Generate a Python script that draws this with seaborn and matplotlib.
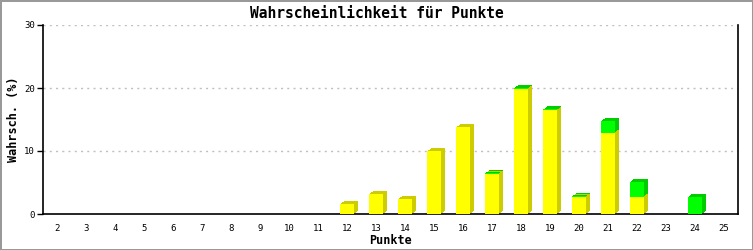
import matplotlib
matplotlib.use("Agg")
import matplotlib.pyplot as plt
import matplotlib.patheffects as pe
import seaborn as sns
import pandas as pd

categories = [str(i) for i in range(2, 26)]
yellow = [0, 0, 0, 0, 0, 0, 0, 0, 0, 0, 1.6, 3.2, 2.4, 10.0, 13.8, 6.4, 19.9, 16.5, 2.75, 12.9, 2.75, 0, 0, 0]
green = [0, 0, 0, 0, 0, 0, 0, 0, 0, 0, 0, 0, 0, 0, 0, 0.1, 0.1, 0.1, 0.1, 1.9, 2.4, 0, 2.75, 0]
yticks = [0, 10, 20, 30]

title = "Wahrscheinlichkeit für Punkte"
xlabel = "Punkte"
ylabel = "Wahrsch. (%)"

df = pd.DataFrame({"Punkte": categories, "gelb": yellow, "gruen": green})

sns.set_theme(style="white")
plt.rcParams["font.family"] = ["DejaVu Sans Mono"]

fig = plt.figure(figsize=(7.53, 2.5), dpi=100, facecolor="white",
                 edgecolor="#999999", linewidth=2)
ax = fig.add_axes([43 / 753, 1 - 214 / 250, 695 / 753, 189 / 250])

sns.barplot(data=df, x="Punkte", y="gelb", color="#FFFF00", saturation=1,
            width=0.48, linewidth=0, ax=ax, zorder=3)
n_y = len(ax.patches)
sns.barplot(data=df, x="Punkte", y="gruen", color="#00FF00", saturation=1,
            width=0.48, linewidth=0, ax=ax, zorder=3, bottom=df["gelb"].values)

px = 72 / 100.0


def effects(shade):
    lst = []
    for i in range(1, 5):
        lst.append(pe.SimplePatchShadow(offset=(i * px, i * 0.75 * px),
                                        shadow_rgbFace=shade, alpha=1.0))
    lst.append(pe.Normal())
    return lst


for k, p in enumerate(ax.patches):
    if p.get_height() <= 0:
        p.set_visible(False)
        continue
    shade = "#CCCC00" if k < n_y else "#00CC00"
    p.set_path_effects(effects(shade))

ax.set_xlim(-0.5, len(categories) - 0.5)
ax.set_ylim(0, 30)
ax.set_yticks(yticks)
ax.set_yticklabels([str(t) for t in yticks])

for t in yticks[1:]:
    ax.axhline(t, color="#C0C0C0", linewidth=1, linestyle=(0, (1.5, 3)), zorder=1)

for s in ["left", "right", "bottom"]:
    ax.spines[s].set_visible(True)
    ax.spines[s].set_color("black")
    ax.spines[s].set_linewidth(1.2)
ax.spines["top"].set_visible(False)

ax.tick_params(axis="y", which="both", left=True, length=4, width=1,
               color="black", labelsize=6.5, pad=2)
ax.tick_params(axis="x", bottom=False, labelsize=6.5, pad=1)
for lab in ax.get_xticklabels() + ax.get_yticklabels():
    lab.set_color("black")

ax.set_xlabel(xlabel, fontsize=8.5, fontweight="bold", color="black", labelpad=1)
ax.set_ylabel(ylabel, fontsize=8.5, fontweight="bold", color="black", labelpad=3)
fig.text(0.5, 1 - 14 / 250, title, ha="center", va="center",
         fontsize=10.5, fontweight="bold", color="black")

fig.savefig("out.png", dpi=100, facecolor="white", edgecolor=fig.get_edgecolor())
